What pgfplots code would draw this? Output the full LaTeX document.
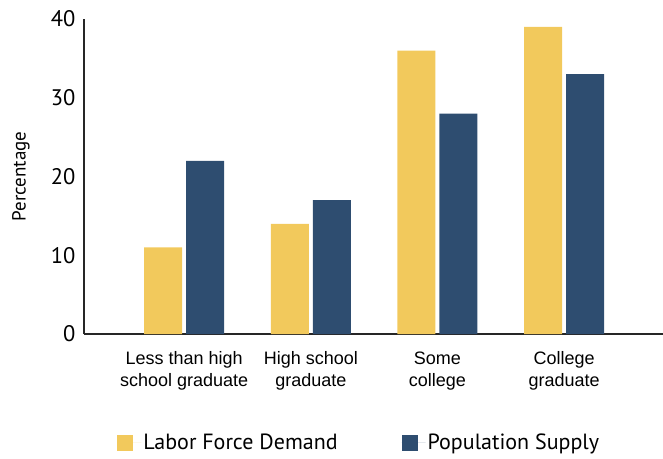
\documentclass[border=0pt]{standalone}
\usepackage{fontspec}
\setmainfont{Liberation Sans}
\newfontfamily\myriad{PT Sans}
\usepackage{pgfplots}
\pgfplotsset{compat=1.18}

\definecolor{demand}{HTML}{F2C95C}
\definecolor{supply}{HTML}{2E4D70}

\begin{document}
\begin{tikzpicture}
\begin{axis}[
    name=ax,
    scale only axis,
    width=579pt, height=315pt,
    ybar=4pt,
    bar width=38pt,
    xmin=-0.79, xmax=3.78,
    ymin=0, ymax=40,
    xtick={0,1,2,3},
    xticklabels={Less than high\\school graduate, High school\\graduate, Some\\college, College\\graduate},
    ytick={0,10,20,30,40},
    axis x line=bottom,
    axis y line=left,
    axis line style={-, line width=1.5pt, black!85},
    major tick length=0pt,
    tick label style={/pgf/number format/assume math mode=true},
    yticklabel style={font=\myriad\fontsize{22.5}{24}\selectfont, xshift=-5pt},
    xticklabel style={font=\fontsize{18}{22}\selectfont, align=center, yshift=-14pt},
    ylabel={Percentage},
    ylabel style={font=\myriad\fontsize{19}{21}\selectfont,
        at={(axis description cs:-0.109,0.5)}, anchor=center},
    legend columns=2,
    legend style={at={(0.4755,-0.345)}, anchor=center, draw=none,
        font=\myriad\fontsize{22}{24}\selectfont,
        /tikz/every even column/.append style={column sep=62pt}},
    legend image code/.code={\fill[#1] (0pt,-8pt) rectangle (16pt,8pt);
        \path (0pt,0pt) -- (24pt,0pt);},
]
\addplot[fill=demand, draw=none] coordinates {(0,11) (1,14) (2,36) (3,39)};
\addplot[fill=supply, draw=none] coordinates {(0,22) (1,17) (2,28) (3,33)};
\legend{Labor Force Demand, Population Supply}
\end{axis}
\pgfresetboundingbox
\path ([xshift=-84pt,yshift=-124pt]ax.south west) rectangle ([yshift=19pt]ax.north east);
\end{tikzpicture}
\end{document}
